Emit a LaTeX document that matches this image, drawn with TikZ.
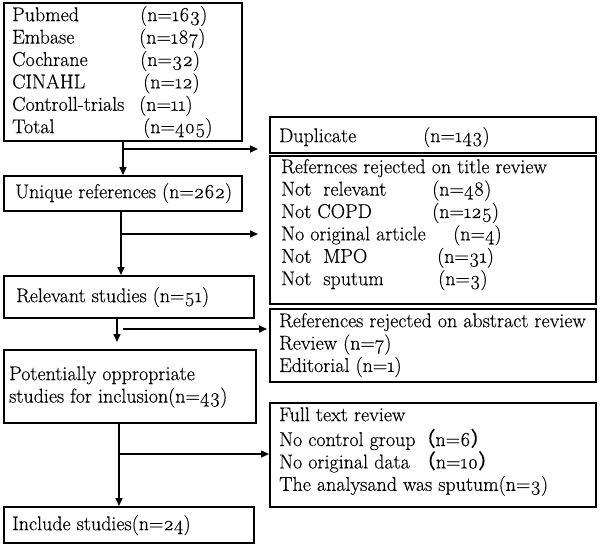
\documentclass[tikz,border=0pt]{standalone}
\usepackage{fontspec}
\setmainfont{Latin Modern Roman}[Numbers=OldStyle, FakeBold=0.35]
\newfontfamily\cjk{Noto Sans CJK SC}[FakeBold=0.35]
\usetikzlibrary{arrows.meta}
\newcommand\nn[1]{(n=#1)}
\newcommand\fw[1]{{\cjk （}n=#1{\cjk ）}}
\tikzset{
  box/.style={draw, line width=1.6pt, inner sep=0pt, anchor=north west},
  txt/.style={anchor=north west, inner sep=0pt, align=left, font=\fontsize{20}{22.4}\selectfont},
  arr/.style={line width=1.6pt, -{Triangle[length=8pt,width=7pt]}}
}
\begin{document}
\begin{tikzpicture}[x=1pt,y=-1pt]
\useasboundingbox (0,0) rectangle (600,544);
% boxes
\node[box, minimum width=238pt, minimum height=138pt] (src) at (3,2) {};
\node[box, minimum width=326pt, minimum height=36pt] (dup) at (269,116) {};
\node[box, minimum width=326pt, minimum height=148pt] (title) at (269,155) {};
\node[box, minimum width=238pt, minimum height=35pt] (unique) at (3,175) {};
\node[box, minimum width=250pt, minimum height=42pt] (relevant) at (3,275) {};
\node[box, minimum width=326pt, minimum height=73pt] (abstract) at (269,308) {};
\node[box, minimum width=252pt, minimum height=73pt] (potential) at (3,349) {};
\node[box, minimum width=326pt, minimum height=104pt] (fulltext) at (269,402) {};
\node[box, minimum width=250pt, minimum height=36pt] (include) at (3,506) {};
% texts
\node[txt] (tsrc) at (12,5.3) {\strut\makebox[128pt][l]{Pubmed}\nn{163}\\
\makebox[127pt][l]{Embase}\nn{187}\\
\makebox[128pt][l]{Cochrane}\nn{32}\\
\makebox[131pt][l]{CINAHL}\nn{12}\\
\makebox[127pt][l]{Controll-trials}\nn{11}\\
\makebox[131pt][l]{Total}\nn{405}};
\node[txt] (tdup) at (279,126.3) {\strut\makebox[144pt][l]{Duplicate}\nn{143}};
\node[txt] (ttitle) at (281,157.3) {\strut Refernces rejected on title review\\
\makebox[151pt][l]{Not\ \ relevant}\nn{48}\\
\makebox[151pt][l]{Not COPD}\nn{125}\\
\makebox[172pt][l]{No original article}\nn{4}\\
\makebox[156pt][l]{Not\ \ MPO}\nn{31}\\
\makebox[157pt][l]{Not\ \ sputum}\nn{3}};
\node[txt] (tunique) at (15,182.3) {\strut Unique references \nn{262}};
\node[txt] (trelevant) at (16,286.3) {\strut Relevant studies \nn{51}};
\node[txt] (tabstract) at (279,311.3) {\strut References rejected on abstract review\\
Review \nn{7}\\
Editorial \nn{1}};
\node[txt] (tpotential) at (9,364.3) {\strut Potentially oppropriate\\
studies for inclusion\nn{43}};
\node[txt] (tfulltext) at (279,405.3) {\strut Full text review\\
No control group\fw{6}\\
No original data \fw{10}\\
The analysand was sputum\nn{3}};
\node[txt] (tinclude) at (12,514.3) {\strut Include studies\nn{24}};
% connectors
\coordinate (b1) at (123,149);
\coordinate (b2) at (121,234);
\coordinate (v3) at (117,0);
\coordinate (b3) at (123,329);
\coordinate (b4) at (119,454);
\draw[arr] (src.south -| b1) -- (unique.north -| b1);
\draw[arr, shorten >=11pt] (b1) -- (dup.west |- b1);
\draw[arr] (unique.south -| b2) -- (relevant.north -| b2);
\draw[arr, shorten >=11pt] (b2) -- (title.west |- b2);
\draw[arr, shorten >=7pt] (relevant.south -| v3) -- (potential.north -| v3);
\draw[arr, shorten >=2pt] (b3) -- (abstract.west |- b3);
\draw[arr] (potential.south -| b4) -- (include.north -| b4);
\draw[arr] (b4) -- (fulltext.west |- b4);
\end{tikzpicture}
\end{document}
